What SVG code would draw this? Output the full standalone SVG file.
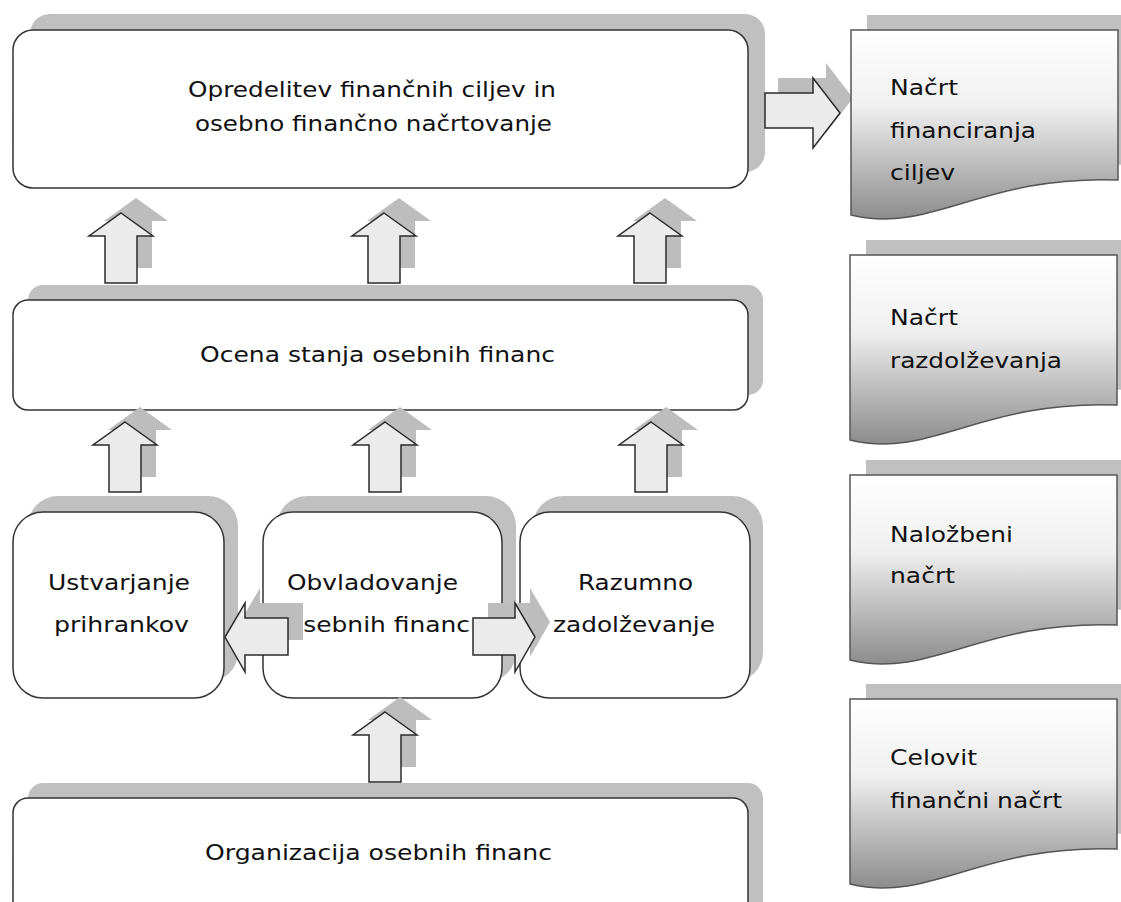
<svg xmlns="http://www.w3.org/2000/svg" xmlns:xlink="http://www.w3.org/1999/xlink" width="1121" height="902" viewBox="0 0 1121 902">
<style>
.sh{fill:#c0c0c0;stroke:none}
.box{fill:#ffffff;stroke:#333333;stroke-width:1.5}
.doc{fill:url(#docg);stroke:#555555;stroke-width:1.5}
.ash{fill:#bdbdbd;stroke:none}
.arr{fill:#ebebeb;stroke:#2b2b2b;stroke-width:1.5;stroke-linejoin:miter}
text{font-family:"DejaVu Sans","Liberation Sans",sans-serif;font-size:22px;fill:#111111}
</style>
<defs>
<linearGradient id="docg" x1="0" y1="0" x2="0" y2="1">
<stop offset="0" stop-color="#ffffff"/>
<stop offset="0.4" stop-color="#f0f0f0"/>
<stop offset="1" stop-color="#8c8c8c"/>
</linearGradient>
<path id="up" d="M0,0 L32,23 L16,23 L16,70 L-16,70 L-16,23 L-32,23 Z"/>
<path id="docshape" d="M0,0 H267 V150 C130,145 80,205 0,185 Z"/>
</defs>

<g id="node-opredelitev">
<rect class="sh" x="30" y="14" width="735" height="158" rx="20"/>
<rect class="box" x="13" y="30" width="735" height="158" rx="20"/>
<text x="188" y="97" textLength="368" lengthAdjust="spacingAndGlyphs">Opredelitev finančnih ciljev in</text>
<text x="195" y="131" textLength="357" lengthAdjust="spacingAndGlyphs">osebno finančno načrtovanje</text>
</g>

<g id="node-ocena">
<rect class="sh" x="28" y="285" width="735" height="110" rx="15"/>
<rect class="box" x="13" y="300" width="735" height="110" rx="15"/>
<text x="200" y="362" textLength="355" lengthAdjust="spacingAndGlyphs">Ocena stanja osebnih financ</text>
</g>

<g id="node-ustvarjanje">
<rect class="sh" x="28" y="496" width="210" height="186" rx="30"/>
<rect class="box" x="13" y="512" width="211" height="186" rx="30"/>
<text x="48" y="590" textLength="142" lengthAdjust="spacingAndGlyphs">Ustvarjanje</text>
<text x="54" y="632" textLength="135" lengthAdjust="spacingAndGlyphs">prihrankov</text>
</g>

<g id="node-obvladovanje">
<rect class="sh" x="277" y="496" width="239" height="186" rx="30"/>
<rect class="box" x="263" y="512" width="239" height="186" rx="30"/>
<text x="287" y="590" textLength="171" lengthAdjust="spacingAndGlyphs">Obvladovanje</text>
<text x="288" y="632" textLength="182" lengthAdjust="spacingAndGlyphs">osebnih financ</text>
</g>

<g id="node-razumno">
<rect class="sh" x="533" y="496" width="230" height="186" rx="30"/>
<rect class="box" x="520" y="512" width="230" height="186" rx="30"/>
<text x="578" y="590" textLength="115" lengthAdjust="spacingAndGlyphs">Razumno</text>
<text x="553" y="632" textLength="162" lengthAdjust="spacingAndGlyphs">zadolževanje</text>
</g>

<g id="node-organizacija">
<rect class="sh" x="28" y="783" width="735" height="140" rx="15"/>
<rect class="box" x="13" y="798" width="735" height="140" rx="15"/>
<text x="205" y="860" textLength="347" lengthAdjust="spacingAndGlyphs">Organizacija  osebnih financ</text>
</g>

<g id="connectors">
<use href="#up" class="ash" transform="translate(136,198)"/>
<use href="#up" class="arr" transform="translate(121,213)"/>
<use href="#up" class="ash" transform="translate(399,198)"/>
<use href="#up" class="arr" transform="translate(384,213)"/>
<use href="#up" class="ash" transform="translate(665,198)"/>
<use href="#up" class="arr" transform="translate(650,213)"/>

<use href="#up" class="ash" transform="translate(140,407)"/>
<use href="#up" class="arr" transform="translate(125,422)"/>
<use href="#up" class="ash" transform="translate(400,407)"/>
<use href="#up" class="arr" transform="translate(385,422)"/>
<use href="#up" class="ash" transform="translate(666,407)"/>
<use href="#up" class="arr" transform="translate(651,422)"/>

<use href="#up" class="ash" transform="translate(400,697)"/>
<use href="#up" class="arr" transform="translate(385,712)"/>

<path class="ash" d="M778,78 H826 V63 L853,98 L826,133 V113 H778 Z"/>
<path class="arr" d="M765,93 H813 V78 L840,113 L813,148 V128 H765 Z"/>

<path class="ash" d="M303,603 H260 V588 L240,622 L260,657 V640 H303 Z"/>
<path class="arr" d="M288,618 H245 V603 L225,637 L245,672 V655 H288 Z"/>

<path class="ash" d="M488,603 H530 V588 L550,622 L530,657 V640 H488 Z"/>
<path class="arr" d="M473,618 H515 V603 L535,637 L515,672 V655 H473 Z"/>
</g>

<g id="doc-financiranja">
<use href="#docshape" class="sh" transform="translate(867,15)"/>
<use href="#docshape" class="doc" transform="translate(851,30)"/>
<text x="890" y="95" textLength="68" lengthAdjust="spacingAndGlyphs">Načrt</text>
<text x="890" y="138" textLength="146" lengthAdjust="spacingAndGlyphs">financiranja</text>
<text x="890" y="180" textLength="65" lengthAdjust="spacingAndGlyphs">ciljev</text>
</g>

<g id="doc-razdolzevanja">
<use href="#docshape" class="sh" transform="translate(866,240)"/>
<use href="#docshape" class="doc" transform="translate(850,255)"/>
<text x="890" y="325" textLength="68" lengthAdjust="spacingAndGlyphs">Načrt</text>
<text x="890" y="368" textLength="172" lengthAdjust="spacingAndGlyphs">razdolževanja</text>
</g>

<g id="doc-nalozbeni">
<use href="#docshape" class="sh" transform="translate(866,460)"/>
<use href="#docshape" class="doc" transform="translate(850,475)"/>
<text x="890" y="542" textLength="123" lengthAdjust="spacingAndGlyphs">Naložbeni</text>
<text x="890" y="583" textLength="65" lengthAdjust="spacingAndGlyphs">načrt</text>
</g>

<g id="doc-celovit">
<use href="#docshape" class="sh" transform="translate(866,684)"/>
<use href="#docshape" class="doc" transform="translate(850,699)"/>
<text x="890" y="765" textLength="87" lengthAdjust="spacingAndGlyphs">Celovit</text>
<text x="890" y="808" textLength="172" lengthAdjust="spacingAndGlyphs">finančni  načrt</text>
</g>
</svg>
